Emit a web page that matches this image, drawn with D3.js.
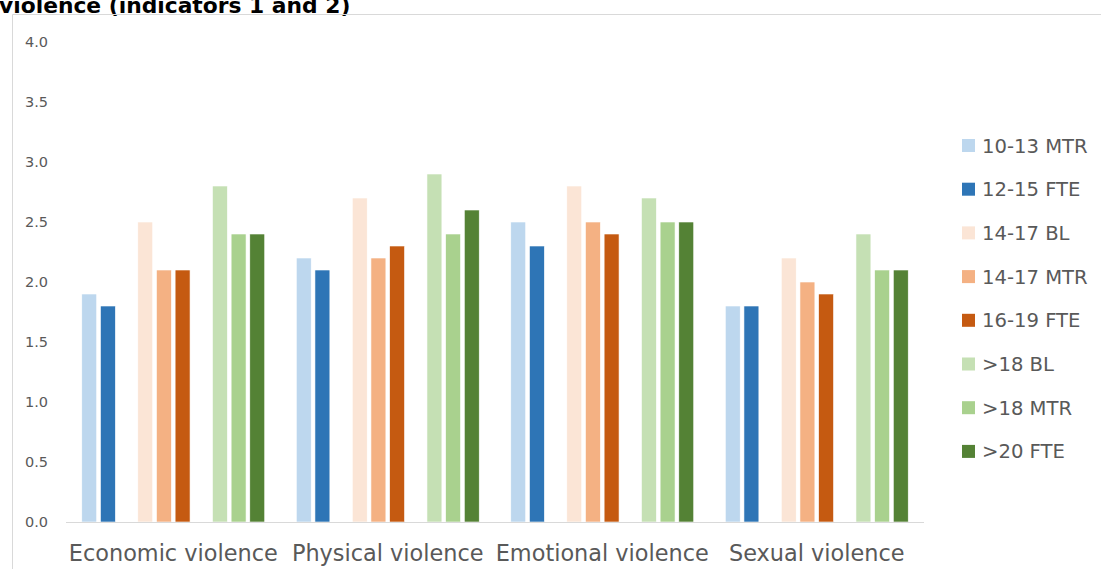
<!DOCTYPE html>
<html>
<head>
<meta charset="utf-8">
<script src="https://cdn.jsdelivr.net/npm/d3@7"></script>
<style>
  html, body { margin: 0; padding: 0; background: #fff; }
  svg { display: block; }
</style>
</head>
<body>
<svg id="chart" width="1101" height="569"></svg>
<script>
// Violence categories along the x axis
const categories = ["Economic violence", "Physical violence", "Emotional violence", "Sexual violence"];

// Survey groups (series); null entries leave an empty slot between age bands
const slots = ["10-13 MTR", "12-15 FTE", null, "14-17 BL", "14-17 MTR", "16-19 FTE", null, ">18 BL", ">18 MTR", ">20 FTE"];
const series = ["10-13 MTR", "12-15 FTE", "14-17 BL", "14-17 MTR", "16-19 FTE", ">18 BL", ">18 MTR", ">20 FTE"];
const colors = ["#bdd7ee", "#2e75b6", "#fbe5d6", "#f4b183", "#c55a11", "#c5e0b4", "#a9d18e", "#548235"];

// Scores per series, one value per category
const s1013MTR = [1.9, 2.2, 2.5, 1.8];
const s1215FTE = [1.8, 2.1, 2.3, 1.8];
const s1417BL  = [2.5, 2.7, 2.8, 2.2];
const s1417MTR = [2.1, 2.2, 2.5, 2.0];
const s1619FTE = [2.1, 2.3, 2.4, 1.9];
const s18BL    = [2.8, 2.9, 2.7, 2.4];
const s18MTR   = [2.4, 2.4, 2.5, 2.1];
const s20FTE   = [2.4, 2.6, 2.5, 2.1];
const values = [s1013MTR, s1215FTE, s1417BL, s1417MTR, s1619FTE, s18BL, s18MTR, s20FTE];

const yTicks = [0, 0.5, 1.0, 1.5, 2.0, 2.5, 3.0, 3.5, 4.0];

const svg = d3.select("#chart");
const font = "'DejaVu Sans', sans-serif";
const textColor = "#595959";

// Title (runs off the top edge)
svg.append("text")
  .attr("x", -1).attr("y", 13)
  .attr("font-family", font).attr("font-weight", "bold")
  .attr("font-size", 21.8).attr("fill", "#000")
  .text("violence (indicators 1 and 2)");

// Chart area border
svg.append("path")
  .attr("d", "M12.5,569 V14.5 H1101")
  .attr("fill", "none").attr("stroke", "#d9d9d9").attr("stroke-width", 1);

const plot = { left: 66, right: 924, top: 42, bottom: 522 };

const x0 = d3.scaleBand().domain(categories).range([plot.left, plot.right]).padding(0);
const x1 = d3.scaleBand().domain(d3.range(slots.length))
  .range([0, x0.bandwidth()]).paddingInner(0.2).paddingOuter(0.845);
const y = d3.scaleLinear().domain([0, 4]).range([plot.bottom, plot.top]);

// Bars
const bars = [];
categories.forEach((c, ci) => {
  series.forEach((s, si) => {
    bars.push({ cat: c, slot: slots.indexOf(s), value: values[si][ci], color: colors[si] });
  });
});

svg.append("g").selectAll("rect").data(bars).join("rect")
  .attr("x", d => x0(d.cat) + x1(d.slot))
  .attr("y", d => y(d.value))
  .attr("width", x1.bandwidth())
  .attr("height", d => y(0) - y(d.value))
  .attr("fill", d => d.color)
  .attr("stroke", "#fff").attr("stroke-width", 0.6);

// X axis baseline
svg.append("line")
  .attr("x1", plot.left).attr("x2", plot.right)
  .attr("y1", y(0) + 0.5).attr("y2", y(0) + 0.5)
  .attr("stroke", "#d9d9d9").attr("stroke-width", 1);

// Y axis labels
const yAxis = d3.axisLeft(y).tickValues(yTicks).tickFormat(d3.format(".1f")).tickSize(0).tickPadding(0);
const ya = svg.append("g").attr("transform", `translate(48,0)`).call(yAxis);
ya.select(".domain").remove();
ya.selectAll("text").attr("font-family", font).attr("font-size", 14.5).attr("fill", textColor);

// Category labels
const xAxis = d3.axisBottom(x0).tickSize(0).tickPadding(0);
const xa = svg.append("g").attr("transform", `translate(0,${y(0)})`).call(xAxis);
xa.select(".domain").remove();
xa.selectAll("text").attr("font-family", font).attr("font-size", 22.4).attr("fill", textColor)
  .attr("dy", null).attr("y", 39);

// Legend
const legend = svg.append("g").selectAll("g").data(series).join("g")
  .attr("transform", (d, i) => `translate(962,${145.5 + i * 43.7})`);
legend.append("rect").attr("x", 0).attr("y", -6.5).attr("width", 13).attr("height", 13)
  .attr("fill", (d, i) => colors[i]);
legend.append("text").attr("x", 20).attr("y", 0).attr("dy", "0.36em")
  .attr("font-family", font).attr("font-size", 19.6).attr("fill", textColor)
  .text(d => d);
</script>
</body>
</html>
